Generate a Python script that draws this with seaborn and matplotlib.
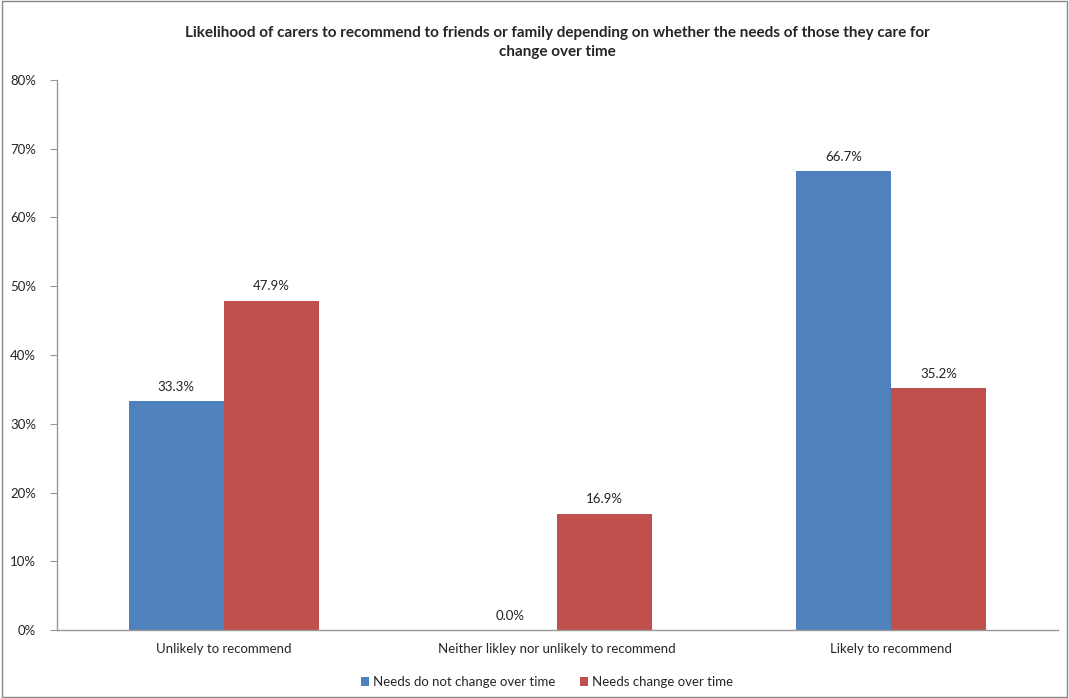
import pandas as pd
import matplotlib.pyplot as plt
import seaborn as sns
from matplotlib.patches import Rectangle

# data
categories = ["Unlikely to recommend", "Neither likley nor unlikely to recommend", "Likely to recommend"]
series = ["Needs do not change over time", "Needs change over time"]
no_change = [33.3, 0.0, 66.7]
change = [47.9, 16.9, 35.2]

df = pd.DataFrame({
    "category": categories * 2,
    "group": [series[0]] * 3 + [series[1]] * 3,
    "value": no_change + change,
})

sns.set_style("white")
plt.rcParams["font.family"] = ["Lato", "DejaVu Sans"]

fig = plt.figure(figsize=(10.69, 6.98), dpi=100)
ax = fig.add_axes([0.0533, 0.0974, 0.936, 0.788])

sns.barplot(data=df, x="category", y="value", hue="group", order=categories,
            hue_order=series, palette=["#4F81BD", "#C0504D"], width=0.57,
            saturation=1, linewidth=0, ax=ax, legend=True)

for cont in ax.containers:
    ax.bar_label(cont, fmt="%.1f%%", padding=6, fontsize=9.5, color="#222222")

ax.set_ylim(0, 80)
ax.set_xlim(-0.5, 2.5)
ax.set_yticks(range(0, 81, 10))
ax.set_yticklabels([f"{v}%" for v in range(0, 81, 10)], fontsize=9.5)
ax.set_xticks(range(3))
ax.set_xticklabels(categories, fontsize=9.5)
ax.set_xticks([-0.5, 0.5, 1.5, 2.5], minor=True)
ax.tick_params(axis="x", which="major", length=0, pad=9)
ax.tick_params(axis="x", which="minor", length=5, color="#999999", direction="out")
ax.tick_params(axis="y", length=5, color="#999999", direction="out", left=True, pad=10)
ax.set_xlabel("")
ax.set_ylabel("")

for s in ["top", "right"]:
    ax.spines[s].set_visible(False)
for s in ["left", "bottom"]:
    ax.spines[s].set_color("#999999")
    ax.spines[s].set_linewidth(1)

ax.set_title("Likelihood of carers to recommend to friends or family depending on whether the needs of those they care for\nchange over time",
             fontsize=11, fontweight="bold", pad=17, linespacing=1.5)

ax.legend(loc="upper center", bbox_to_anchor=(0.49, -0.062), ncol=2, frameon=False,
          fontsize=9.5, handlelength=0.6, handleheight=0.6, handletextpad=0.3,
          columnspacing=1.9)

fig.add_artist(Rectangle((0.002, 0.002), 0.996, 0.996, transform=fig.transFigure,
                         fill=False, edgecolor="#888888", linewidth=1))

fig.savefig("out.png", dpi=100)
